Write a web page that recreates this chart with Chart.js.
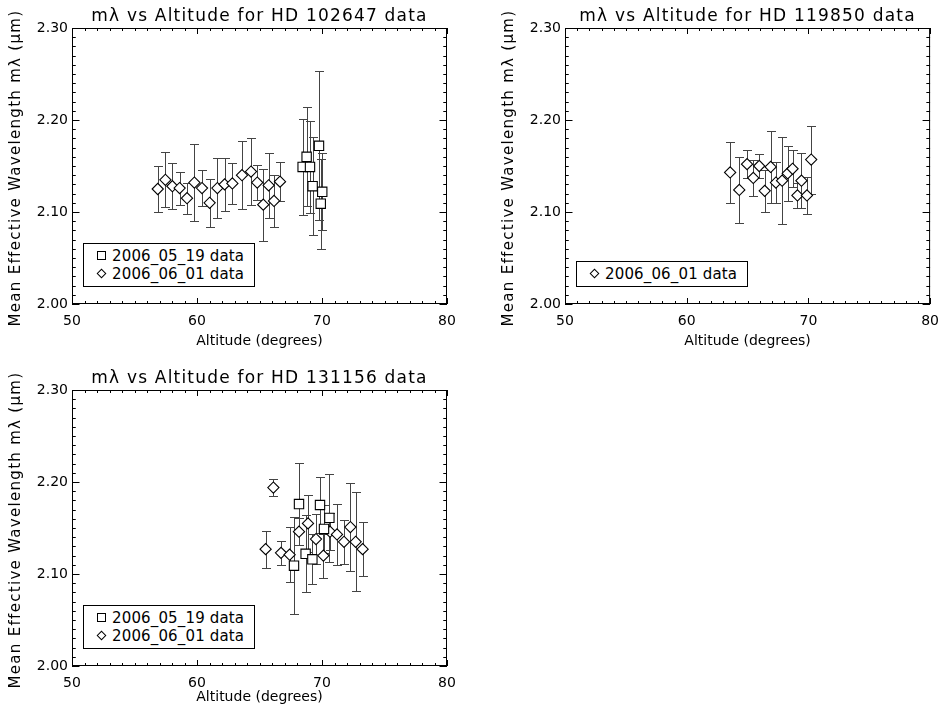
<!DOCTYPE html>
<html>
<head>
<meta charset="utf-8">
<script src="https://cdn.jsdelivr.net/npm/chart.js@4.4.1/dist/chart.umd.min.js"></script>
<style>
html,body{margin:0;padding:0;background:#fff;}
body{width:948px;height:712px;position:relative;overflow:hidden;}
canvas{position:absolute;}
.legend{position:absolute;box-sizing:border-box;border:1px solid #000;background:#fff;font:15px "DejaVu Sans",sans-serif;color:#000;padding:3px 10px 3px 13px;line-height:18px;white-space:nowrap;letter-spacing:0.15px;}
.sym{display:inline-block;box-sizing:border-box;border:1.1px solid #000;vertical-align:middle;position:relative;top:-1px}
.sym.rect{width:9px;height:9px;margin-right:6px;}
.sym.rectRot{width:7px;height:7px;transform:rotate(45deg);margin-left:1px;margin-right:7px}
</style>
</head>
<body>
<canvas id="c1" width="474" height="356" style="left:0;top:0"></canvas>
<canvas id="c2" width="455" height="356" style="left:493px;top:0"></canvas>
<canvas id="c3" width="474" height="350" style="left:0;top:362px"></canvas>
<script>
// ---------- data ----------
const X_TICKS = [50, 60, 70, 80];
const Y_TICKS = [2.00, 2.10, 2.20, 2.30];
const X_LABEL = 'Altitude (degrees)';
const Y_LABEL = 'Mean Effective Wavelength mλ (μm)';
const LABEL_0519 = '2006_05_19 data';
const LABEL_0601 = '2006_06_01 data';
const TITLE_A = 'mλ vs Altitude for HD 102647 data';
const TITLE_B = 'mλ vs Altitude for HD 119850 data';
const TITLE_C = 'mλ vs Altitude for HD 131156 data';

// HD 102647
const a0519Alt = [68.45, 68.77, 69.04, 69.25, 69.76, 69.90, 70.02];
const a0519Val = [2.149, 2.160, 2.149, 2.128, 2.172, 2.109, 2.122];
const a0519Err = [0.052, 0.054, 0.050, 0.053, 0.081, 0.049, 0.042];
const a0601Alt = [56.86, 57.47, 58.03, 58.61, 59.20, 59.79, 60.40, 61.01, 61.63, 62.21, 62.83, 63.60, 64.32, 64.82, 65.30, 65.73, 66.16, 66.64];
const a0601Val = [2.125, 2.135, 2.128, 2.126, 2.115, 2.132, 2.126, 2.110, 2.126, 2.130, 2.131, 2.140, 2.144, 2.132, 2.108, 2.129, 2.112, 2.133];
const a0601Err = [0.025, 0.030, 0.025, 0.018, 0.017, 0.042, 0.020, 0.026, 0.033, 0.029, 0.022, 0.037, 0.036, 0.019, 0.039, 0.035, 0.028, 0.021];

// HD 119850
const b0601Alt = [63.57, 64.32, 64.96, 65.47, 65.96, 66.41, 66.90, 67.33, 67.84, 68.30, 68.70, 69.10, 69.43, 69.88, 70.23];
const b0601Val = [2.143, 2.124, 2.152, 2.137, 2.150, 2.123, 2.149, 2.132, 2.134, 2.142, 2.147, 2.118, 2.134, 2.118, 2.157];
const b0601Err = [0.033, 0.036, 0.015, 0.020, 0.013, 0.023, 0.039, 0.022, 0.047, 0.030, 0.020, 0.014, 0.030, 0.020, 0.037];

// HD 131156
const c0519Alt = [67.76, 68.16, 68.69, 69.23, 69.84, 70.16, 70.59];
const c0519Val = [2.109, 2.176, 2.122, 2.116, 2.175, 2.149, 2.161];
const c0519Err = [0.053, 0.045, 0.042, 0.027, 0.030, 0.026, 0.048];
const c0601Alt = [65.49, 66.11, 66.72, 67.41, 68.16, 68.88, 69.52, 70.11, 70.64, 71.20, 71.76, 72.27, 72.69, 73.25];
const c0601Val = [2.127, 2.194, 2.123, 2.121, 2.146, 2.155, 2.138, 2.120, 2.146, 2.143, 2.135, 2.151, 2.135, 2.127];
const c0601Err = [0.020, 0.009, 0.013, 0.030, 0.015, 0.031, 0.027, 0.024, 0.020, 0.033, 0.024, 0.048, 0.054, 0.029];

// ---------- plugins ----------
const FONT = '"DejaVu Sans", sans-serif';

const errorBars = {
  id: 'errorBars',
  beforeDatasetsDraw(chart) {
    const {ctx} = chart; const xs = chart.scales.x, ys = chart.scales.y;
    ctx.save();
    ctx.strokeStyle = '#444'; ctx.lineWidth = 1;
    chart.data.datasets.forEach(ds => {
      ds.data.forEach(p => {
        const px = Math.round(xs.getPixelForValue(p.x)) + 0.5;
        const yt = Math.round(ys.getPixelForValue(p.y + p.err)) + 0.5;
        const yb = Math.round(ys.getPixelForValue(p.y - p.err)) + 0.5;
        ctx.beginPath();
        ctx.moveTo(px, yt); ctx.lineTo(px, yb);
        ctx.moveTo(px - 4.5, yt); ctx.lineTo(px + 4.5, yt);
        ctx.moveTo(px - 4.5, yb); ctx.lineTo(px + 4.5, yb);
        ctx.stroke();
      });
    });
    ctx.restore();
  }
};

const frameTicks = {
  id: 'frameTicks',
  afterDatasetsDraw(chart) {
    const {ctx, chartArea: a} = chart; const xs = chart.scales.x, ys = chart.scales.y;
    ctx.save();
    ctx.strokeStyle = '#000'; ctx.lineWidth = 1;
    ctx.strokeRect(a.left + 0.5, a.top + 0.5, a.right - a.left - 1, a.bottom - a.top - 1);
    ctx.beginPath();
    // x ticks every 1 degree, major every 10
    for (let v = X_TICKS[0]; v <= X_TICKS[X_TICKS.length - 1] + 1e-9; v += 1) {
      const major = Math.abs(v / 10 - Math.round(v / 10)) < 1e-6;
      const L = major ? 6 : 3;
      const px = Math.round(xs.getPixelForValue(v)) + 0.5;
      ctx.moveTo(px, a.bottom); ctx.lineTo(px, a.bottom - L);
      ctx.moveTo(px, a.top); ctx.lineTo(px, a.top + L);
    }
    // y ticks every 0.01, major every 0.1
    for (let i = 0; i <= 30; i++) {
      const v = Y_TICKS[0] + i * 0.01;
      const major = i % 10 === 0;
      const L = major ? 7.5 : 3.75;
      const py = Math.round(ys.getPixelForValue(v)) + 0.5;
      ctx.moveTo(a.left, py); ctx.lineTo(a.left + L, py);
      ctx.moveTo(a.right, py); ctx.lineTo(a.right - L, py);
    }
    ctx.stroke();
    ctx.restore();
  }
};

const panelTitles = {
  id: 'panelTitles',
  afterDraw(chart, args, opts) {
    const {ctx, chartArea: a} = chart;
    ctx.save();
    ctx.fillStyle = '#000';
    ctx.font = '17px ' + FONT;
    if ('letterSpacing' in ctx) ctx.letterSpacing = '1.2px';
    ctx.textAlign = 'center'; ctx.textBaseline = 'alphabetic';
    ctx.fillText(opts.text, (a.left + a.right) / 2, a.top - 7);
    // vertical axis title
    ctx.font = '15px ' + FONT;
    if ('letterSpacing' in ctx) ctx.letterSpacing = '1.3px';
    ctx.textBaseline = 'middle';
    ctx.translate(16, (a.top + a.bottom) / 2 + 2);
    ctx.rotate(-Math.PI / 2);
    ctx.fillText(opts.yTitle, 0, 0);
    ctx.restore();
  }
};

// ---------- chart builder ----------
function makeChart(id, title, sets, padRight, xAxisHeight) {
  const canvas = document.getElementById(id);
  const datasets = sets.map(s => ({
    label: s.label,
    data: s.alt.map((a, i) => ({x: a, y: s.val[i], err: s.err[i]})),
    showLine: false,
    pointStyle: s.style,
    pointRadius: s.style === 'rect' ? 6.6 : 5.6,
    pointHoverRadius: s.style === 'rect' ? 6.6 : 5.6,
    pointBorderWidth: 1.1,
    pointBorderColor: '#000',
    pointBackgroundColor: '#fff',
    borderColor: '#000',
    backgroundColor: '#fff'
  }));
  const chart = new Chart(canvas, {
    type: 'scatter',
    data: {datasets},
    options: {
      responsive: false,
      animation: false,
      devicePixelRatio: 1,
      layout: {padding: {left: 0, right: padRight, top: 28, bottom: 0}},
      plugins: {
        legend: {display: false},
        tooltip: {enabled: false},
        panelTitles: {text: title, yTitle: Y_LABEL}
      },
      scales: {
        x: {
          type: 'linear', min: X_TICKS[0], max: X_TICKS[X_TICKS.length - 1],
          afterBuildTicks: s => { s.ticks = X_TICKS.map(v => ({value: v})); },
          afterFit: s => { s.height = xAxisHeight; },
          grid: {display: false, drawTicks: false},
          border: {display: false},
          ticks: {color: '#000', font: {family: FONT, size: 14}, padding: 9, maxRotation: 0,
                  callback: v => String(v)},
          title: {display: true, text: X_LABEL, color: '#000', font: {family: FONT, size: 14},
                  padding: {top: 0, bottom: 6}}
        },
        y: {
          type: 'linear', min: Y_TICKS[0], max: Y_TICKS[Y_TICKS.length - 1],
          afterBuildTicks: s => { s.ticks = Y_TICKS.map(v => ({value: v})); },
          afterFit: s => { s.width = 72; },
          grid: {display: false, drawTicks: false},
          border: {display: false},
          ticks: {color: '#000', font: {family: FONT, size: 14}, padding: 4,
                  callback: v => Number(v).toFixed(2)}
        }
      }
    },
    plugins: [errorBars, frameTicks, panelTitles]
  });
  // HTML legend from the datasets, placed inside the plot area
  const a = chart.chartArea;
  const lg = document.createElement('div');
  lg.className = 'legend';
  chart.data.datasets.forEach(ds => {
    const row = document.createElement('div');
    const sym = document.createElement('span');
    sym.className = 'sym ' + ds.pointStyle;
    row.appendChild(sym);
    row.appendChild(document.createTextNode(ds.label));
    lg.appendChild(row);
  });
  document.body.appendChild(lg);
  const cl = parseFloat(canvas.style.left) || 0, ct = parseFloat(canvas.style.top) || 0;
  lg.style.left = (cl + a.left + 11) + 'px';
  lg.style.top = (ct + a.bottom - 17 - lg.offsetHeight) + 'px';
  return chart;
}

makeChart('c1', TITLE_A, [
  {label: LABEL_0519, style: 'rect', alt: a0519Alt, val: a0519Val, err: a0519Err},
  {label: LABEL_0601, style: 'rectRot', alt: a0601Alt, val: a0601Val, err: a0601Err}
], 27, 52);
makeChart('c2', TITLE_B, [
  {label: LABEL_0601, style: 'rectRot', alt: b0601Alt, val: b0601Val, err: b0601Err}
], 10, 52);
makeChart('c3', TITLE_C, [
  {label: LABEL_0519, style: 'rect', alt: c0519Alt, val: c0519Val, err: c0519Err},
  {label: LABEL_0601, style: 'rectRot', alt: c0601Alt, val: c0601Val, err: c0601Err}
], 27, 46);
</script>
</body>
</html>
